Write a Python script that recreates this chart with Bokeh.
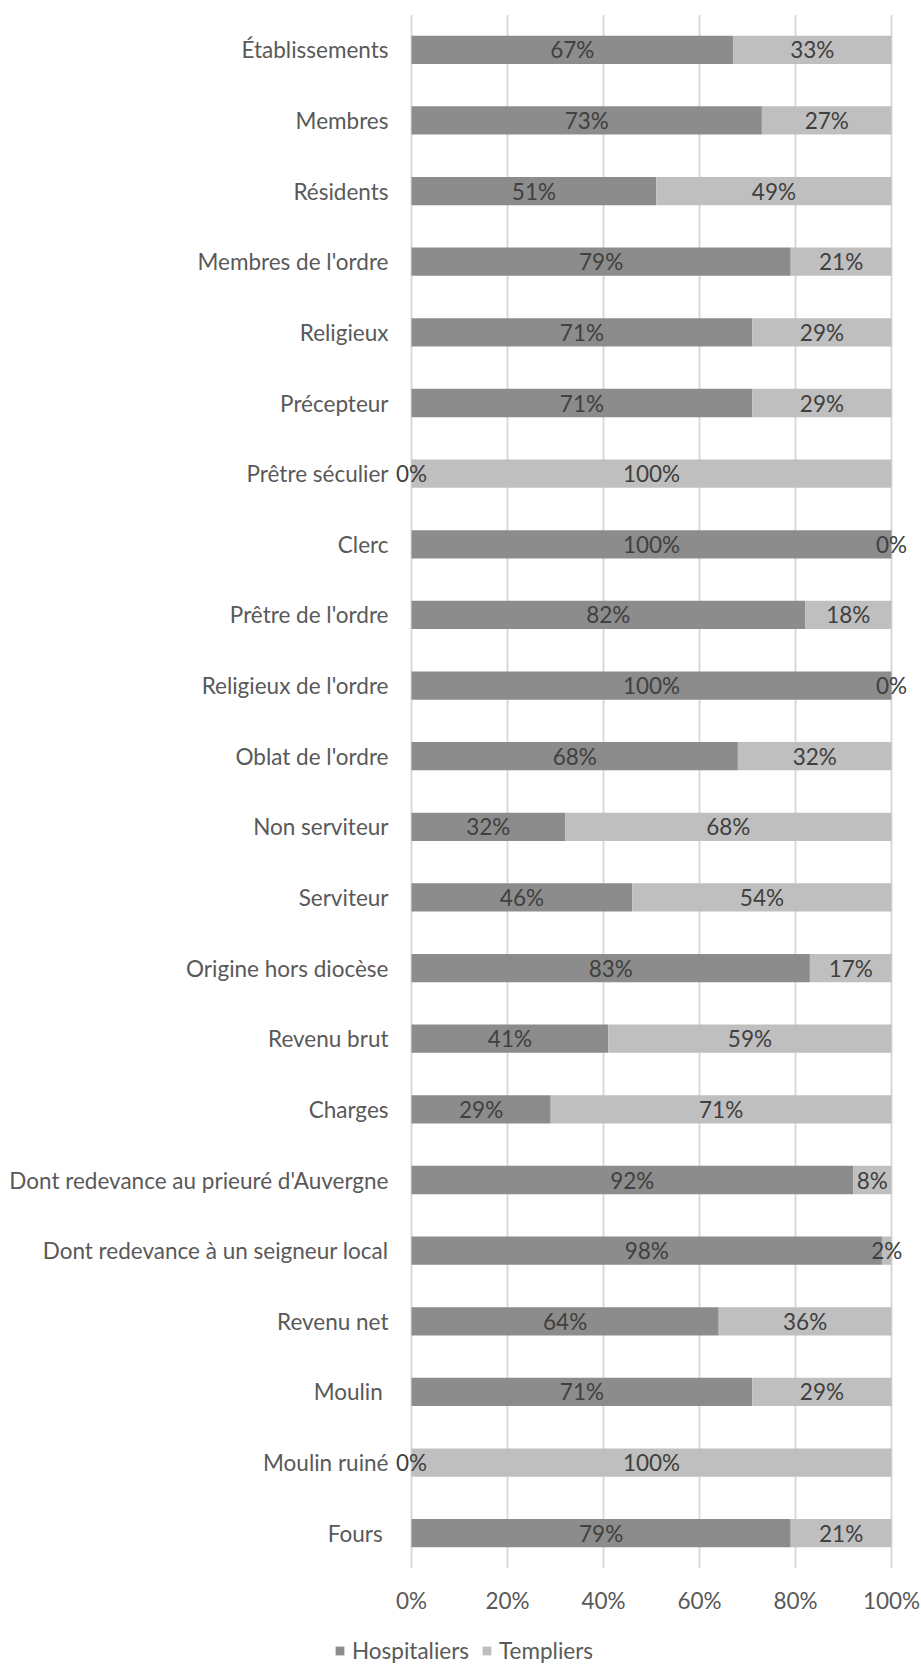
from bokeh.plotting import figure
from bokeh.models import (FactorRange, Range1d, ColumnDataSource, Legend, LegendItem,
                          FixedTicker, NumeralTickFormatter)
from bokeh.core.properties import value
from bokeh.embed import file_html
from bokeh.resources import INLINE

categories = ["Établissements", "Membres", "Résidents", "Membres de l'ordre", "Religieux",
              "Précepteur", "Prêtre séculier", "Clerc", "Prêtre de l'ordre",
              "Religieux de l'ordre", "Oblat de l'ordre", "Non serviteur", "Serviteur",
              "Origine hors diocèse", "Revenu brut", "Charges",
              "Dont redevance au prieuré d'Auvergne", "Dont redevance à un seigneur local",
              "Revenu net", "Moulin ", "Moulin ruiné", "Fours "]
hospitaliers = [67, 73, 51, 79, 71, 71, 0, 100, 82, 100, 68, 32, 46, 83, 41, 29, 92, 98, 64, 71, 0, 79]
templiers = [33, 27, 49, 21, 29, 29, 100, 0, 18, 0, 32, 68, 54, 17, 59, 71, 8, 2, 36, 29, 100, 21]
series_names = ["Hospitaliers", "Templiers"]
x_ticks = [0, 0.2, 0.4, 0.6, 0.8, 1.0]

FONT = "Lato"
FS = "22.5px"
DARK = "#8c8c8c"
LIGHT = "#bfbfbf"
LABEL_COLOR = "#595959"

h = [v / 100 for v in hospitaliers]
t = [v / 100 for v in templiers]
src = ColumnDataSource(dict(
    cat=categories,
    h_end=h,
    t_start=h,
    t_end=[a + b for a, b in zip(h, t)],
    h_mid=[a / 2 for a in h],
    t_mid=[a + b / 2 for a, b in zip(h, t)],
    h_lab=[f"{v}%" for v in hospitaliers],
    t_lab=[f"{v}%" for v in templiers],
))

p = figure(width=921, height=1616,
           y_range=FactorRange(*reversed(categories)),
           x_range=Range1d(-0.0375, 1.0625),
           output_backend="svg", toolbar_location=None,
           min_border_left=393, min_border_right=0,
           min_border_top=14, min_border_bottom=48)
p.outline_line_color = None
p.background_fill_color = "white"

r1 = p.hbar(y="cat", left=0, right="h_end", height=0.4, source=src,
            fill_color=DARK, line_color=None)
r2 = p.hbar(y="cat", left="t_start", right="t_end", height=0.4, source=src,
            fill_color=LIGHT, line_color=None)

for xcol, tcol in (("h_mid", "h_lab"), ("t_mid", "t_lab")):
    p.text(x=xcol, y="cat", text=tcol, source=src,
           text_align="center", text_baseline="middle",
           text_font=value(FONT), text_font_size=FS, text_color="#404040")

# grid
p.ygrid.grid_line_color = None
p.xgrid.grid_line_color = "#d9d9d9"
p.xgrid.grid_line_width = 2
p.xgrid.ticker = FixedTicker(ticks=x_ticks)

# x axis
xa = p.xaxis[0]
xa.ticker = FixedTicker(ticks=x_ticks)
xa.formatter = NumeralTickFormatter(format="0%")
xa.axis_line_color = None
xa.major_tick_line_color = None
xa.minor_tick_line_color = None
xa.major_tick_out = 0
xa.major_tick_in = 0
xa.major_label_standoff = 18
xa.major_label_text_font = FONT
xa.major_label_text_font_size = FS
xa.major_label_text_color = LABEL_COLOR

# y axis
ya = p.yaxis[0]
ya.axis_line_color = None
ya.major_tick_line_color = None
ya.minor_tick_line_color = None
ya.major_tick_out = 0
ya.major_tick_in = 0
ya.major_label_standoff = 5
ya.major_label_text_font = FONT
ya.major_label_text_font_size = FS
ya.major_label_text_color = LABEL_COLOR

# legend strip below the chart (hidden copies of the series, only the legend shows)
pl = figure(width=921, height=48, x_range=Range1d(0, 1),
            y_range=FactorRange(*reversed(categories)),
            output_backend="svg", toolbar_location=None,
            min_border_left=0, min_border_right=0, min_border_top=0, min_border_bottom=0)
pl.axis.visible = False
pl.grid.visible = False
pl.outline_line_color = None
l1 = pl.hbar(y="cat", left=0, right="h_end", height=0.4, source=src,
             fill_color=DARK, line_color=None)
l2 = pl.hbar(y="cat", left="t_start", right="t_end", height=0.4, source=src,
             fill_color=LIGHT, line_color=None)
l1.visible = False
l2.visible = False
legend = Legend(items=[LegendItem(label=series_names[0], renderers=[l1]),
                       LegendItem(label=series_names[1], renderers=[l2])],
                orientation="horizontal", location=(334, 0),
                glyph_width=11, glyph_height=11, label_standoff=7, spacing=12,
                padding=0, margin=0, border_line_color=None,
                background_fill_alpha=0,
                label_text_font=FONT, label_text_font_size=FS,
                label_text_color=LABEL_COLOR, label_height=20)
pl.add_layout(legend, "center")

open("out.html", "w").write(file_html([p, pl], INLINE))
